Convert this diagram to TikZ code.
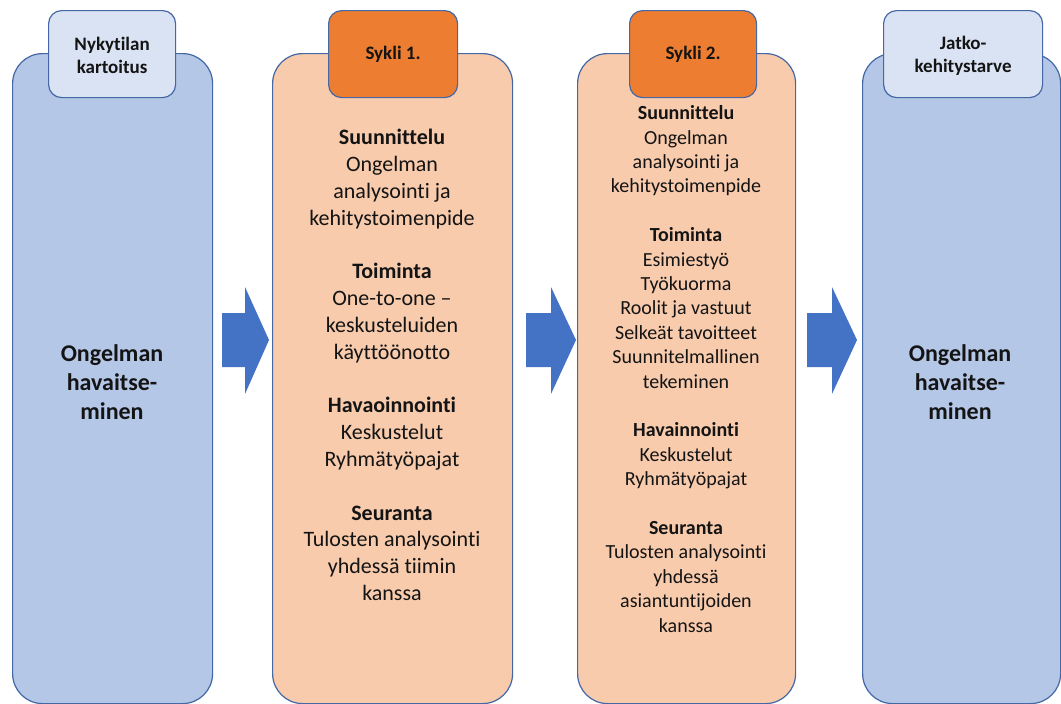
\documentclass[tikz,border=0pt]{standalone}
\usepackage{fontspec}
\setmainfont[Ligatures=NoCommon]{Carlito}
\definecolor{boxblue}{RGB}{180,199,231}
\definecolor{tabblue}{RGB}{218,227,243}
\definecolor{boxpeach}{RGB}{248,203,173}
\definecolor{taborange}{RGB}{237,125,49}
\definecolor{edgeblue}{RGB}{68,104,166}
\definecolor{arrowblue}{RGB}{68,114,196}
\definecolor{inktext}{RGB}{20,20,20}
\begin{document}
\begin{tikzpicture}[x=1pt,y=-1pt,
  mainbox/.style={draw=edgeblue, line width=1.2pt, rounded corners=30pt, inner sep=0pt, minimum height=650pt, anchor=north west},
  tabbox/.style={draw=edgeblue, line width=1.2pt, rounded corners=13pt, inner sep=0pt, minimum height=87pt, anchor=north west},
  tabtext/.style={font=\fontsize{19}{23}\selectfont\bfseries, align=center, inner sep=0pt, text=inktext},
  bigtext/.style={font=\fontsize{24}{29}\selectfont\bfseries, align=center, inner sep=0pt, text=inktext},
  bodytwo/.style={font=\fontsize{22}{26.8}\selectfont, align=center, inner sep=0pt, text=inktext},
  bodythree/.style={font=\fontsize{20}{24.4}\selectfont, align=center, inner sep=0pt, text=inktext},
  blockarrow/.style={fill=arrowblue}
]
\useasboundingbox (0,0) rectangle (1061,704);
\fill[white] (0,0) rectangle (1061,704);

% main boxes
\node[mainbox, fill=boxblue, minimum width=200pt] (b1) at (12,53) {};
\node[mainbox, fill=boxpeach, minimum width=240pt] (b2) at (272,53) {};
\node[mainbox, fill=boxpeach, minimum width=218pt] (b3) at (577,53) {};
\node[mainbox, fill=boxblue, minimum width=198pt] (b4) at (862,53) {};

% tabs
\node[tabbox, fill=tabblue, minimum width=127pt] (t1) at (48,10) {};
\node[tabbox, fill=taborange, minimum width=129pt] (t2) at (328,10) {};
\node[tabbox, fill=taborange, minimum width=127pt] (t3) at (629,10) {};
\node[tabbox, fill=tabblue, minimum width=159pt] (t4) at (883,10) {};

\node[tabtext] (t1txt) at ([yshift=-1pt]t1.center) {Nykytilan\\kartoitus};
\node[tabtext] (t2txt) at (t2.center) {Sykli 1.};
\node[tabtext] (t3txt) at (t3.center) {Sykli 2.};
\node[tabtext] (t4txt) at ([yshift=-2pt]t4.center) {Jatko-\\kehitystarve};

% arrows
\fill[blockarrow] (222,313) -- (245,313) -- (245,287) -- (269,340) -- (245,394) -- (245,367) -- (222,367) -- cycle;
\fill[blockarrow] (526,313) -- (551,313) -- (551,287) -- (576,340) -- (551,394) -- (551,367) -- (526,367) -- cycle;
\fill[blockarrow] (807,313) -- (832,313) -- (832,287) -- (857,340) -- (832,394) -- (832,367) -- (807,367) -- cycle;

% texts
\node[bigtext] (b1txt) at (112,382) {Ongelman\\havaitse-\\minen};
\node[bigtext] (b4txt) at (960,382) {Ongelman\\havaitse-\\minen};

\node[bodytwo] (b2txt) at (392,365) {\textbf{Suunnittelu}\\Ongelman\\analysointi ja\\kehitystoimenpide\\[26.8pt]
\textbf{Toiminta}\\One-to-one –\\keskusteluiden\\käyttöönotto\\[26.8pt]
\textbf{Havaoinnointi}\\Keskustelut\\Ryhmätyöpajat\\[26.8pt]
\textbf{Seuranta}\\Tulosten analysointi\\yhdessä tiimin\\kanssa};

\node[bodythree] (b3txt) at (686,369) {\textbf{Suunnittelu}\\Ongelman\\analysointi ja\\kehitystoimenpide\\[24.4pt]
\textbf{Toiminta}\\Esimiestyö\\Työkuorma\\Roolit ja vastuut\\Selkeät tavoitteet\\Suunnitelmallinen\\tekeminen\\[24.4pt]
\textbf{Havainnointi}\\Keskustelut\\Ryhmätyöpajat\\[24.4pt]
\textbf{Seuranta}\\Tulosten analysointi\\yhdessä\\asiantuntijoiden\\kanssa};
\end{tikzpicture}
\end{document}
